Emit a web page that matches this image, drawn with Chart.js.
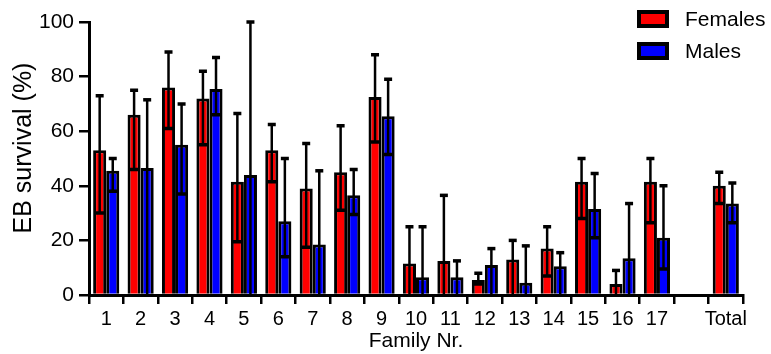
<!DOCTYPE html>
<html>
<head>
<meta charset="utf-8">
<script src="https://cdn.jsdelivr.net/npm/chart.js@4.4.1/dist/chart.umd.min.js"></script>
<style>
  html, body { margin: 0; padding: 0; background: #fff; }
  #wrap { position: relative; width: 771px; height: 354px; }
  .legend { position: absolute; left: 637px; top: 10px; font-family: "Liberation Sans", Arial, sans-serif; font-size: 21px; color: #000; }
  .legend .item { display: flex; align-items: center; height: 18px; margin-bottom: 14px; }
  .legend .box { width: 24px; height: 10px; border: 4px solid #000; margin-right: 16px; }
</style>
</head>
<body>
<div id="wrap">
  <canvas id="chart" width="771" height="354"></canvas>
  <div class="legend">
    <div class="item"><span class="box" style="background:#ff0000"></span>Females</div>
    <div class="item"><span class="box" style="background:#0000ff"></span>Males</div>
  </div>
</div>
<script>
  // Family numbers (empty slot before the total)
  const families = ['1', '2', '3', '4', '5', '6', '7', '8', '9', '10', '11', '12', '13', '14', '15', '16', '17', '', 'Total'];

  // EB survival (%) and error bar ends
  const females      = [53, 66, 76, 72, 41.5, 53, 39, 45, 72.5, 11.5, 12.5, 5.5, 13, 17, 41.5, 4, 41.5, null, 40];
  const femalesUpper = [73, 75, 89, 82, 66.5, 62.5, 55.5, 62, 88, 25, 36.5, 8, 20, 25, 50, 9, 50, null, 45];
  const femalesLower = [30, 46, 61, 55, 19.5, 41.5, 17.5, 31, 56, 0, 0, 4, 0, 7, 28, 0, 26.5, null, 33.5];

  const males      = [45.5, 46.5, 55, 75.5, 44, 27, 18.5, 36.5, 65.5, 6.5, 6.5, 11, 4.5, 10.5, 31.5, 13.5, 21, null, 33.5];
  const malesUpper = [50, 71.5, 70, 87, 100, 50, 45.5, 46, 79, 25, 12.5, 17, 18, 15.5, 44.5, 33.5, 40, null, 41];
  const malesLower = [38, 0, 37, 66, 0, 14, 0, 29.5, 51.5, 0, 0, 0, 0, 0, 21, 0, 9.5, null, 26.5];

  const yTicks = [0, 20, 40, 60, 80, 100];

  const font = 'Liberation Sans';

  // Draws the error bars on top of the bars
  const errorBars = {
    id: 'errorBars',
    afterDatasetsDraw(chart) {
      const ctx = chart.ctx;
      const y = chart.scales.y;
      chart.data.datasets.forEach((ds, di) => {
        const meta = chart.getDatasetMeta(di);
        meta.data.forEach((bar, i) => {
          const hi = ds.upper[i];
          const lo = ds.lower[i];
          if (hi == null || lo == null) {
            return;
          }
          const x = bar.x;
          const yHi = y.getPixelForValue(hi);
          const yLo = y.getPixelForValue(lo);
          ctx.save();
          ctx.strokeStyle = '#000';
          ctx.lineWidth = 2.5;
          ctx.beginPath();
          ctx.moveTo(x, yHi);
          ctx.lineTo(x, yLo);
          ctx.stroke();
          ctx.lineWidth = 3.5;
          ctx.beginPath();
          ctx.moveTo(x - 4, yHi);
          ctx.lineTo(x + 4, yHi);
          if (lo > 0) {
            const w = bar.width / 2 - 2;
            ctx.moveTo(x - w, yLo);
            ctx.lineTo(x + w, yLo);
          }
          ctx.stroke();
          ctx.restore();
        });
      });
    }
  };

  // Y axis title, drawn rotated at the left edge
  const yTitle = {
    id: 'yTitle',
    afterDraw(chart) {
      const ctx = chart.ctx;
      ctx.save();
      ctx.translate(24, 148);
      ctx.rotate(-Math.PI / 2);
      ctx.font = '25px "' + font + '"';
      ctx.fillStyle = '#000';
      ctx.textAlign = 'center';
      ctx.textBaseline = 'middle';
      ctx.fillText('EB survival (%)', 0, 0);
      ctx.restore();
    }
  };

  new Chart(document.getElementById('chart'), {
    type: 'bar',
    data: {
      labels: families,
      datasets: [
        {
          label: 'Females',
          data: females,
          upper: femalesUpper,
          lower: femalesLower,
          backgroundColor: '#ff0000',
          borderColor: '#000',
          borderWidth: 3,
          categoryPercentage: 0.76,
          barPercentage: 1
        },
        {
          label: 'Males',
          data: males,
          upper: malesUpper,
          lower: malesLower,
          backgroundColor: '#0000ff',
          borderColor: '#000',
          borderWidth: 3,
          categoryPercentage: 0.76,
          barPercentage: 1
        }
      ]
    },
    options: {
      responsive: false,
      animation: false,
      layout: { padding: { top: 22, right: 28, left: 0, bottom: 0 } },
      plugins: {
        legend: { display: false },
        tooltip: { enabled: false }
      },
      scales: {
        x: {
          grid: { display: true, drawOnChartArea: false, drawTicks: true, tickLength: 9, color: '#000', lineWidth: 2.5 },
          border: { display: true, color: '#000', width: 3 },
          ticks: { color: '#000', font: { family: font, size: 20 }, padding: 3, maxRotation: 0, autoSkip: false },
          title: { display: true, text: 'Family Nr.', color: '#000', font: { family: font, size: 21 }, padding: { top: -7, bottom: 0 } },
          afterFit: (scale) => { scale.height = 59; }
        },
        y: {
          min: 0,
          max: 100,
          afterBuildTicks: (scale) => { scale.ticks = yTicks.map(v => ({ value: v })); },
          grid: { display: true, drawOnChartArea: false, drawTicks: true, tickLength: 10, color: '#000', lineWidth: 2.5 },
          border: { display: true, color: '#000', width: 3 },
          ticks: { color: '#000', font: { family: font, size: 21 }, padding: 5 },
          title: { display: false },
          afterFit: (scale) => { scale.width = 89; }
        }
      }
    },
    plugins: [errorBars, yTitle]
  });
</script>
</body>
</html>
